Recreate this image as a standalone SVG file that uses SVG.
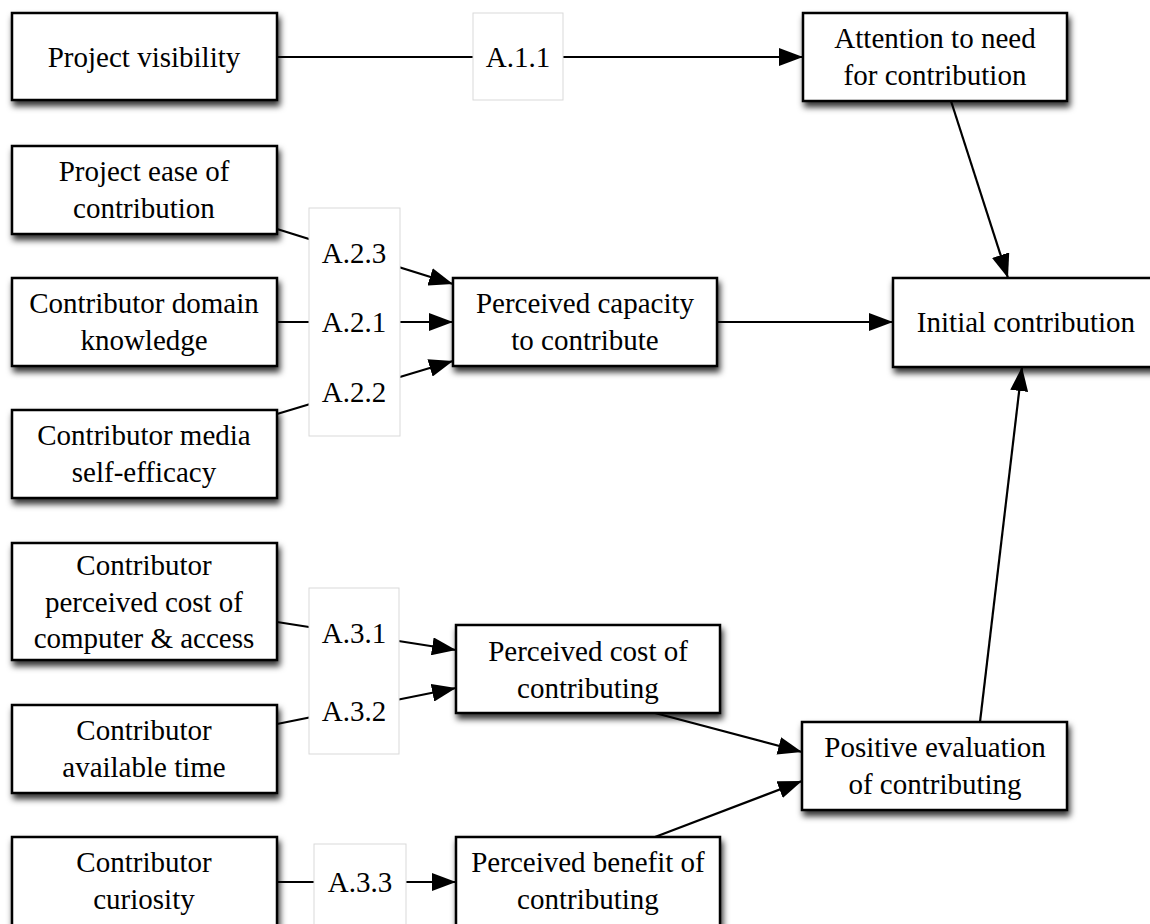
<svg xmlns="http://www.w3.org/2000/svg" width="1150" height="924" viewBox="0 0 1150 924">
  <style>
    .box { fill: #ffffff; stroke: #000000; stroke-width: 2.5; filter: url(#shadow); }
    .lbl { fill: #ffffff; stroke: #d9d9d9; stroke-width: 1; }
    .t { font-family: "Liberation Serif", "Times New Roman", serif; font-size: 29px; fill: #000000; text-anchor: middle; }
    .edge { stroke: #000000; stroke-width: 2.2; fill: none; }
    .arrow { marker-end: url(#head); }
  </style>
  <defs>
    <filter id="shadow" x="-10%" y="-20%" width="125%" height="150%">
      <feDropShadow dx="2" dy="5" stdDeviation="3" flood-color="#000000" flood-opacity="0.8"/>
    </filter>
    <marker id="head" viewBox="0 0 24 18" refX="24" refY="9" markerWidth="24" markerHeight="18" markerUnits="userSpaceOnUse" orient="auto">
      <path d="M0,0 L24,9 L0,18 Z" fill="#000000"/>
    </marker>
  </defs>

  <!-- input factors -->
  <g id="project-visibility">
    <rect class="box" x="12" y="13" width="265" height="87"/>
    <text class="t" x="144" y="67">Project visibility</text>
  </g>
  <g id="project-ease">
    <rect class="box" x="12" y="146" width="265" height="88"/>
    <text class="t" x="144" y="181">Project ease of</text>
    <text class="t" x="144" y="218">contribution</text>
  </g>
  <g id="domain-knowledge">
    <rect class="box" x="12" y="278" width="265" height="88"/>
    <text class="t" x="144" y="313">Contributor domain</text>
    <text class="t" x="144" y="350">knowledge</text>
  </g>
  <g id="media-self-efficacy">
    <rect class="box" x="12" y="410" width="265" height="88"/>
    <text class="t" x="144" y="445">Contributor media</text>
    <text class="t" x="144" y="482">self-efficacy</text>
  </g>
  <g id="cost-of-access">
    <rect class="box" x="12" y="543" width="265" height="117"/>
    <text class="t" x="144" y="575">Contributor</text>
    <text class="t" x="144" y="612">perceived cost of</text>
    <text class="t" x="144" y="648">computer &amp; access</text>
  </g>
  <g id="available-time">
    <rect class="box" x="12" y="705" width="265" height="88"/>
    <text class="t" x="144" y="740">Contributor</text>
    <text class="t" x="144" y="777">available time</text>
  </g>
  <g id="curiosity">
    <rect class="box" x="12" y="837" width="265" height="100"/>
    <text class="t" x="144" y="872">Contributor</text>
    <text class="t" x="144" y="909">curiosity</text>
  </g>

  <!-- intermediate constructs -->
  <g id="perceived-capacity">
    <rect class="box" x="453" y="278" width="264" height="88"/>
    <text class="t" x="585" y="313">Perceived capacity</text>
    <text class="t" x="585" y="350">to contribute</text>
  </g>
  <g id="perceived-cost">
    <rect class="box" x="456" y="625" width="264" height="88"/>
    <text class="t" x="588" y="661">Perceived cost of</text>
    <text class="t" x="588" y="698">contributing</text>
  </g>
  <g id="perceived-benefit">
    <rect class="box" x="456" y="837" width="264" height="100"/>
    <text class="t" x="588" y="872">Perceived benefit of</text>
    <text class="t" x="588" y="909">contributing</text>
  </g>
  <g id="attention">
    <rect class="box" x="803" y="13" width="264" height="88"/>
    <text class="t" x="935" y="48">Attention to need</text>
    <text class="t" x="935" y="85">for contribution</text>
  </g>
  <g id="positive-evaluation">
    <rect class="box" x="802" y="722" width="265" height="88"/>
    <text class="t" x="935" y="757">Positive evaluation</text>
    <text class="t" x="935" y="794">of contributing</text>
  </g>
  <g id="initial-contribution">
    <rect class="box" x="893" y="278" width="270" height="89"/>
    <text class="t" x="1026" y="332">Initial contribution</text>
  </g>

  <!-- connectors and their labels -->
  <g id="connectors">
    <line class="edge arrow" x1="277" y1="57" x2="803" y2="57"/>
    <line class="edge arrow" x1="951" y1="101" x2="1008" y2="278"/>
    <line class="edge arrow" x1="277" y1="229" x2="453" y2="284"/>
    <line class="edge arrow" x1="277" y1="322" x2="453" y2="322"/>
    <line class="edge arrow" x1="277" y1="414" x2="453" y2="361"/>
    <line class="edge arrow" x1="717" y1="322" x2="893" y2="322"/>
    <line class="edge arrow" x1="277" y1="622" x2="456" y2="650"/>
    <line class="edge arrow" x1="277" y1="724" x2="456" y2="688"/>
    <line class="edge arrow" x1="277" y1="882" x2="456" y2="882"/>
    <line class="edge arrow" x1="655" y1="713" x2="802" y2="752"/>
    <line class="edge arrow" x1="655" y1="837" x2="802" y2="781"/>
    <line class="edge arrow" x1="980" y1="722" x2="1022" y2="367"/>

    <g id="label-a11">
      <rect class="lbl" x="473" y="13" width="90" height="87"/>
      <text class="t" x="518" y="67">A.1.1</text>
    </g>
    <!-- stacked labels on the capacity inputs share one frame -->
    <g id="labels-a2">
      <rect class="lbl" x="309" y="208" width="91" height="228"/>
      <text class="t" x="354" y="263">A.2.3</text>
      <text class="t" x="354" y="332">A.2.1</text>
      <text class="t" x="354" y="402">A.2.2</text>
    </g>
    <!-- stacked labels on the cost inputs -->
    <g id="labels-a3">
      <rect class="lbl" x="309" y="588" width="90" height="166"/>
      <text class="t" x="354" y="643">A.3.1</text>
      <text class="t" x="354" y="721">A.3.2</text>
    </g>
    <g id="label-a33">
      <rect class="lbl" x="314" y="844" width="92" height="90"/>
      <text class="t" x="360" y="892">A.3.3</text>
    </g>
  </g>
</svg>
